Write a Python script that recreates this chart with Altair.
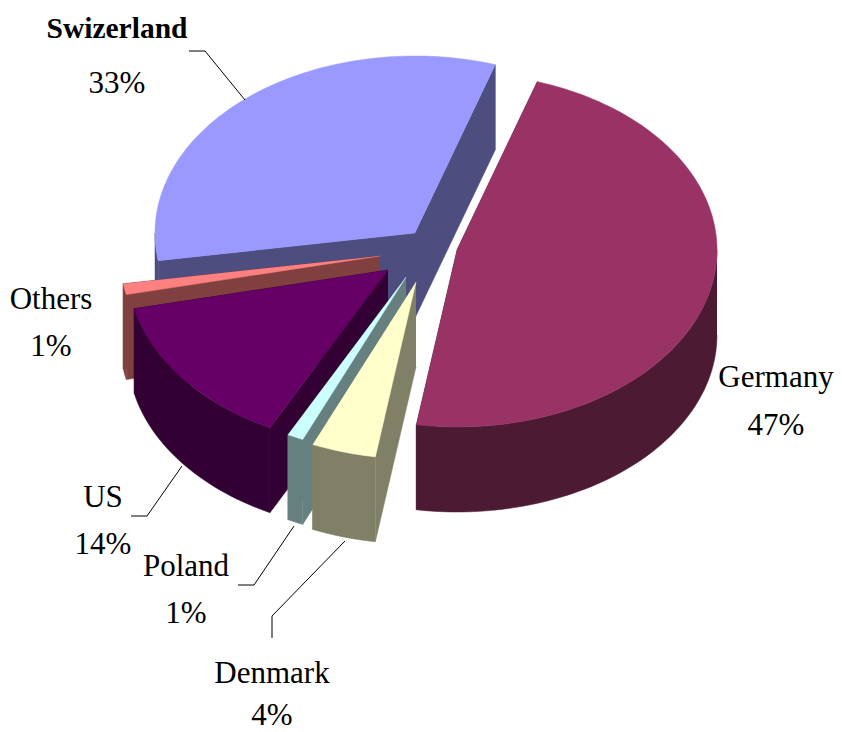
import math
import altair as alt
import pandas as pd

# ---- chart values -------------------------------------------------------
categories = ["Germany", "Denmark", "Poland", "US", "Others", "Swizerland"]
shares = [47.5, 4.0, 1.0, 14.0, 1.0, 32.5]          # slice sizes, clockwise
percent_labels = ["47%", "4%", "1%", "14%", "1%", "33%"]
top_colors = ["#993366", "#ffffcc", "#ccffff", "#660066", "#ff8080", "#9999ff"]
side_colors = ["#4d1a33", "#808066", "#668080", "#330033", "#804040", "#4d4d80"]

# exploded position of each slice's tip (picture coordinates)
tip_x = [457, 416, 406, 388, 380, 415]
tip_y = [250, 282, 277, 270, 256, 233]
start_angle = 18.0
radius_x, radius_y, depth = 260.0, 177.0, 85.0
draw_order = ["Swizerland", "Others", "US", "Germany", "Poland", "Denmark"]

label_x = [776, 272, 186, 103, 51, 117]
label_name_y = [387, 683, 576, 507, 309, 38]
label_pct_y = [435, 725, 623, 554, 356, 93]

leader_lines = {
    "Swizerland": [(189, 51), (205, 51), (245, 100)],
    "US": [(131, 516), (147, 516), (182, 466)],
    "Poland": [(238, 585), (254, 585), (294, 526)],
    "Denmark": [(272, 638), (272, 616), (345, 541)],
}


# ---- geometry -----------------------------------------------------------
def rim(cx, cy, a):
    r = math.radians(a)
    return cx + radius_x * math.sin(r), cy - radius_y * math.cos(r)


def arc(cx, cy, a0, a1):
    n = max(2, int(abs(a1 - a0) / 1.5) + 1)
    return [rim(cx, cy, a0 + (a1 - a0) * i / n) for i in range(n + 1)]


spans = {}
cursor = start_angle
for name, share in zip(categories, shares):
    spans[name] = (cursor, cursor + share * 3.6)
    cursor += share * 3.6

rows = []
face_no = 0


def add_face(points, color):
    global face_no
    face_no += 1
    for i, (x, y) in enumerate(points):
        rows.append({"face": face_no, "i": i, "x": x, "y": y, "color": color})


for name in draw_order:
    k = categories.index(name)
    cx, cy = tip_x[k], tip_y[k]
    a0, a1 = spans[name]
    side, top = side_colors[k], top_colors[k]
    for a in (a0, a1):
        px, py = rim(cx, cy, a)
        add_face([(cx, cy), (px, py), (px, py + depth), (cx, cy + depth)], side)
    w0, w1 = max(a0, 90.0), min(a1, 270.0)
    if w1 > w0:
        wall = arc(cx, cy, w0, w1)
        add_face(wall + [(x, y + depth) for x, y in reversed(wall)], side)
    add_face([(cx, cy)] + arc(cx, cy, a0, a1), top)

faces = pd.DataFrame(rows)

line_rows = []
for name, pts in leader_lines.items():
    for i, (x, y) in enumerate(pts):
        line_rows.append({"name": name, "i": i, "x": x, "y": y})
lines = pd.DataFrame(line_rows)

text_rows = []
for k, name in enumerate(categories):
    bold = name == "Swizerland"
    text_rows.append({"t": name, "x": label_x[k], "y": label_name_y[k], "bold": bold})
    text_rows.append({"t": percent_labels[k], "x": label_x[k], "y": label_pct_y[k], "bold": False})
texts = pd.DataFrame(text_rows)

# ---- chart --------------------------------------------------------------
X = alt.X("x:Q", scale=alt.Scale(domain=[8, 834], nice=False, zero=False), axis=None)
Y = alt.Y("y:Q", scale=alt.Scale(domain=[732, 8], nice=False, zero=False), axis=None)

slices = alt.Chart(faces).mark_line(strokeWidth=0.5, interpolate="linear").encode(
    x=X, y=Y,
    detail="face:N",
    order="i:Q",
    fill=alt.Fill("color:N", scale=None),
    stroke=alt.Stroke("color:N", scale=None),
)

leaders = alt.Chart(lines).mark_line(color="#000000", strokeWidth=1).encode(
    x=X, y=Y, detail="name:N", order="i:Q"
)

plain = alt.Chart(texts[~texts["bold"]]).mark_text(
    font="Liberation Serif", fontSize=31, align="center", baseline="alphabetic", color="#000000"
).encode(x=X, y=Y, text="t:N")

bold = alt.Chart(texts[texts["bold"]]).mark_text(
    font="Liberation Serif", fontWeight="bold", fontSize=29.5, align="center",
    baseline="alphabetic", color="#000000"
).encode(x=X, y=Y, text="t:N")

chart = (slices + leaders + plain + bold).properties(
    width=826, height=724, padding=0, background="#ffffff",
    autosize=alt.AutoSizeParams(type="none"),
).configure_view(stroke=None)

chart.save("out.html", embed_options={"renderer": "svg", "actions": False})
